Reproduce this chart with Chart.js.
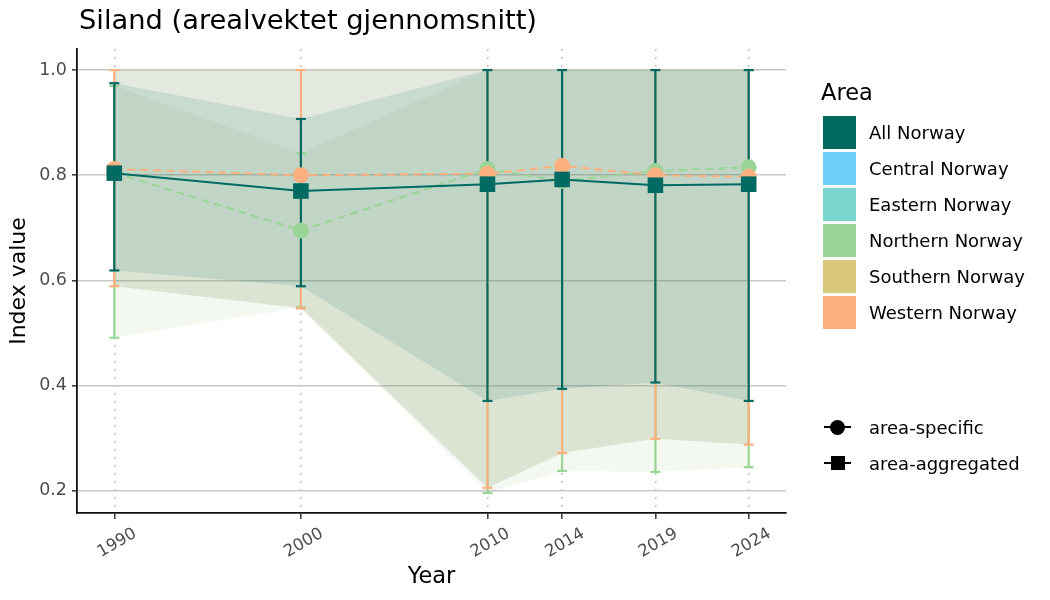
<!DOCTYPE html>
<html><head><meta charset="utf-8">
<script src="https://cdn.jsdelivr.net/npm/chart.js@4.4.1/dist/chart.umd.min.js"></script>
<style>
html,body{margin:0;padding:0;background:#fff;}
body{width:1050px;height:600px;position:relative;overflow:hidden;font-family:"DejaVu Sans",sans-serif;}
#wrap{position:absolute;left:0;top:0;width:1050px;height:600px;}
.t{position:absolute;white-space:nowrap;color:#000;}
.box{position:absolute;width:33px;height:33px;}
</style></head><body>
<div id="wrap"><canvas id="c" width="1050" height="600"></canvas></div>
<div class="t" style="left:79px;top:3px;font-size:27.3px;line-height:34px;">Siland (arealvektet gjennomsnitt)</div>
<div id="legend"></div>
<script>
// ---- data ----
const years = [1990, 2000, 2010, 2014, 2019, 2024];
const yTicks = [0.2, 0.4, 0.6, 0.8, 1.0];

const allNorway     = [0.804, 0.770, 0.783, 0.792, 0.781, 0.783];
const allNorwayLow  = [0.619, 0.589, 0.371, 0.394, 0.406, 0.371];
const allNorwayHigh = [0.975, 0.907, 1.000, 1.000, 1.000, 1.000];

const western     = [0.812, 0.800, 0.803, 0.818, 0.800, 0.797];
const westernLow  = [0.589, 0.547, 0.206, 0.272, 0.299, 0.288];
const westernHigh = [1.000, 1.000, 1.000, 1.000, 1.000, 1.000];

const northern     = [0.805, 0.695, 0.812, 0.789, 0.808, 0.815];
const northernLow  = [0.491, 0.549, 0.196, 0.238, 0.236, 0.245];
const northernHigh = [0.970, 0.842, 1.000, 1.000, 1.000, 1.000];

const areaNames = ["All Norway", "Central Norway", "Eastern Norway", "Northern Norway", "Southern Norway", "Western Norway"];
const areaColors = ["#006a63", "#6ecff6", "#7ad6cd", "#9ad496", "#d9c77b", "#fdb07f"];
const shapeNames = ["area-specific", "area-aggregated"];

// ---- helpers ----
const FONT = "DejaVu Sans";
const pts = (vals) => years.map((x, i) => ({x, y: vals[i]}));
const errPts = (lo, hi) => years.flatMap((x, i) => [{x, y: lo[i]}, {x, y: hi[i]}, {x, y: null}]);
const C_TEAL = areaColors[0], C_GREEN = areaColors[3], C_ORANGE = areaColors[5];

function ribbon(lo, hi, fillColor, order, lowerIndex) {
  return [
    {data: pts(lo), borderColor: 'rgba(0,0,0,0)', borderWidth: 1, pointRadius: 0, fill: false, order: order + 1},
    {data: pts(hi), borderColor: 'rgba(0,0,0,0)', borderWidth: 1, pointRadius: 0, fill: {target: lowerIndex}, backgroundColor: fillColor, order: order}
  ];
}
function errbar(lo, hi, color, order) {
  return {data: errPts(lo, hi), borderColor: color, borderWidth: 2.2, spanGaps: false,
    pointStyle: 'line', pointRadius: 5, pointBorderColor: color, pointBorderWidth: 2.2, pointBackgroundColor: color, fill: false, order};
}

const datasets = [
  ...ribbon(northernLow, northernHigh, 'rgba(135,185,105,0.10)', 30, 0),   // 0,1
  ...ribbon(westernLow, westernHigh, 'rgba(120,145,95,0.20)', 28, 2),      // 2,3
  ...ribbon(allNorwayLow, allNorwayHigh, 'rgba(0,105,96,0.12)', 26, 4),    // 4,5
  errbar(northernLow, northernHigh, C_GREEN, 20),
  errbar(westernLow, westernHigh, C_ORANGE, 19),
  errbar(allNorwayLow, allNorwayHigh, C_TEAL, 18),
  {data: pts(northern), borderColor: C_GREEN, borderWidth: 2, borderDash: [8, 5], pointStyle: 'circle', pointRadius: 8,
   pointBackgroundColor: C_GREEN, pointBorderWidth: 0, fill: false, order: 12},
  {data: pts(western), borderColor: C_ORANGE, borderWidth: 2, borderDash: [8, 5], pointStyle: 'circle', pointRadius: 8,
   pointBackgroundColor: C_ORANGE, pointBorderWidth: 0, fill: false, order: 11},
  {data: pts(allNorway), borderColor: C_TEAL, borderWidth: 2, pointStyle: 'rect', pointRadius: 11,
   pointBackgroundColor: C_TEAL, pointBorderWidth: 0, fill: false, order: 10}
];

new Chart(document.getElementById('c'), {
  type: 'line',
  data: {datasets},
  options: {
    responsive: false, animation: false, events: [], devicePixelRatio: 1,
    layout: {padding: {left: 0, top: 49, right: 264, bottom: 0}},
    elements: {line: {tension: 0}},
    plugins: {legend: {display: false}, tooltip: {enabled: false}, filler: {propagate: false}},
    scales: {
      x: {
        type: 'linear', position: 'bottom', min: 1988, max: 2026,
        afterBuildTicks: s => { s.ticks = years.map(v => ({value: v})); },
        afterFit: s => { s.height = 87; },
        ticks: {autoSkip: false, minRotation: 30, maxRotation: 30, color: '#4d4d4d', padding: 5, labelOffset: 21,
                font: {family: FONT, size: 16.5}, callback: v => String(v)},
        grid: {color: '#c4c4c4', lineWidth: 1.6, drawTicks: true, tickLength: 6, tickColor: '#333', tickWidth: 1.5},
        border: {display: true, color: '#111', width: 1.8, dash: [2, 6]},
        title: {display: true, text: 'Year', color: '#000', font: {family: FONT, size: 22.5}, padding: {top: 0, bottom: 9}}
      },
      y: {
        type: 'linear', position: 'left', min: 0.158, max: 1.04,
        afterBuildTicks: s => { s.ticks = yTicks.map(v => ({value: v})); },
        afterFit: s => { s.width = 77; },
        ticks: {color: '#4d4d4d', padding: 5, font: {family: FONT, size: 17.5}, callback: v => v.toFixed(1)},
        grid: {color: '#c8c8c8', lineWidth: 1.6, drawTicks: true, tickLength: 5, tickColor: '#333', tickWidth: 1.5},
        border: {display: true, color: '#111', width: 1.8},
        title: {display: true, text: 'Index value', color: '#000', font: {family: FONT, size: 22}, padding: {top: 6, bottom: 0}}
      }
    }
  }
});

// ---- legend (HTML) ----
const lg = document.getElementById('legend');
let h = '<div class="t" style="left:821px;top:78px;font-size:22.5px;line-height:28px;">Area</div>';
areaNames.forEach((n, i) => {
  const top = 116 + 36 * i;
  h += `<div class="box" style="left:823px;top:${top}px;background:${areaColors[i]};"></div>`;
  h += `<div class="t" style="left:869px;top:${top + 4}px;font-size:18px;line-height:25px;">${n}</div>`;
});
const shapeY = [427, 463];
shapeNames.forEach((n, i) => {
  const cy = shapeY[i];
  h += `<div style="position:absolute;left:824px;top:${cy - 1}px;width:27px;height:2px;background:#000;"></div>`;
  if (i === 0) h += `<div style="position:absolute;left:830px;top:${cy - 7.5}px;width:15px;height:15px;border-radius:50%;background:#000;"></div>`;
  else h += `<div style="position:absolute;left:831px;top:${cy - 7}px;width:14px;height:14px;background:#000;"></div>`;
  h += `<div class="t" style="left:869px;top:${cy - 12.5}px;font-size:18px;line-height:25px;">${n}</div>`;
});
lg.innerHTML = h;
</script>
</body></html>
